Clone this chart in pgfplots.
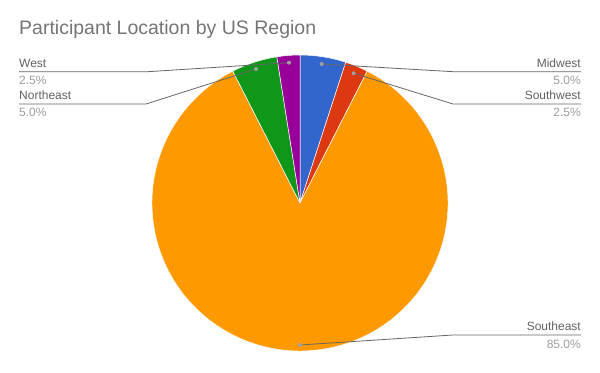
\documentclass[border=0pt]{standalone}
\usepackage{pgfplots}
\pgfplotsset{compat=1.18}
\usepackage{fontspec}
\setmainfont{Liberation Sans}
\definecolor{cMid}{HTML}{3366CC}
\definecolor{cSW}{HTML}{DC3912}
\definecolor{cSE}{HTML}{FF9900}
\definecolor{cNE}{HTML}{109618}
\definecolor{cW}{HTML}{990099}
\definecolor{titleGray}{HTML}{757575}
\definecolor{nameGray}{HTML}{616161}
\definecolor{pctGray}{HTML}{9E9E9E}
\definecolor{lineGray}{HTML}{666666}
\definecolor{dotGray}{HTML}{A0A0A0}
\begin{document}
\begin{tikzpicture}
\begin{axis}[x=1pt, y=1pt, xmin=0, xmax=600, ymin=0, ymax=371,
  hide axis, clip=false, enlargelimits=false]
\path[fill=white] (axis cs:0,0) rectangle (axis cs:600,371);
% pie slices (percent values), clockwise from 12 o'clock
\def\startA{90}
\pgfplotsforeachungrouped \v/\c in {5/cMid,2.5/cSW,85/cSE,5/cNE,2.5/cW} {
  \pgfmathsetmacro\endA{\startA-3.6*\v}
  \edef\cmd{\noexpand\fill[\c, draw=white, line width=0.5pt, line join=round] (axis cs:300,168) -- ++(\startA:148pt) arc[start angle=\startA, end angle=\endA, radius=148pt] -- cycle;}
  \cmd
  \global\let\startA\endA
}
% title
\node[anchor=base west, inner sep=0, text=titleGray, font=\fontsize{19.5}{22}\selectfont] at (axis cs:19,336) {Participant Location by US Region};
% leader lines
\draw[lineGray, line width=0.8pt] (axis cs:19,299.3) -- (axis cs:148,299.3) -- (axis cs:289,308.3);
\draw[lineGray, line width=0.8pt] (axis cs:19,267) -- (axis cs:146,267) -- (axis cs:256,302);
\draw[lineGray, line width=0.8pt] (axis cs:581,299.3) -- (axis cs:453,299.3) -- (axis cs:321.7,307);
\draw[lineGray, line width=0.8pt] (axis cs:581,267) -- (axis cs:453,267) -- (axis cs:353.7,297.7);
\draw[lineGray, line width=0.8pt] (axis cs:581,36) -- (axis cs:453,36) -- (axis cs:300,26);
\fill[dotGray] (axis cs:289,308.3) circle[radius=2pt];
\fill[dotGray] (axis cs:256,302) circle[radius=2pt];
\fill[dotGray] (axis cs:321.7,307) circle[radius=2pt];
\fill[dotGray] (axis cs:353.7,297.7) circle[radius=2pt];
\fill[dotGray] (axis cs:300,26) circle[radius=2pt];
% labels
\tikzset{nm/.style={inner sep=0, text=nameGray, font=\fontsize{12}{14}\selectfont},
         pc/.style={inner sep=0, text=pctGray, font=\fontsize{12}{14}\selectfont}}
\node[nm, anchor=base west] at (axis cs:19,303) {West};
\node[pc, anchor=base west] at (axis cs:19,286) {2.5\%};
\node[nm, anchor=base west] at (axis cs:19,271) {Northeast};
\node[pc, anchor=base west] at (axis cs:19,254.3) {5.0\%};
\node[nm, anchor=base east] at (axis cs:581,303.7) {Midwest};
\node[pc, anchor=base east] at (axis cs:581,286) {5.0\%};
\node[nm, anchor=base east] at (axis cs:581,271.7) {Southwest};
\node[pc, anchor=base east] at (axis cs:581,254.3) {2.5\%};
\node[nm, anchor=base east] at (axis cs:581,40) {Southeast};
\node[pc, anchor=base east] at (axis cs:581,22.7) {85.0\%};
\end{axis}
\end{tikzpicture}
\end{document}
